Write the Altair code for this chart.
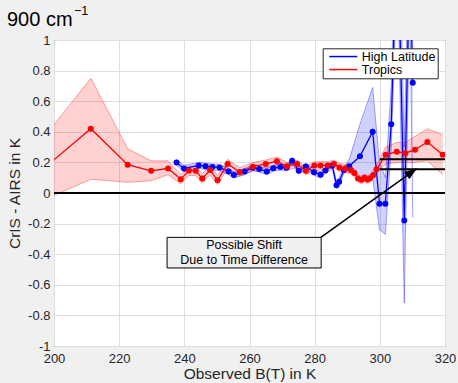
import math
import altair as alt
import pandas as pd

# ---------------- data ----------------
x_ticks = [200, 220, 240, 260, 280, 300, 320]
y_ticks = [-1.0, -0.8, -0.6, -0.4, -0.2, 0.0, 0.2, 0.4, 0.6, 0.8, 1.0]
series_names = ["High Latitude", "Tropics"]
series_colors = ["#0000ff", "#ff0000"]

hl_x = [237.6, 239.9, 244.4, 246.5, 248.6, 250.8, 253.6, 255.2, 258.5, 261.0,
        263.0, 265.3, 267.3, 269.5, 271.4, 273.1, 275.1, 277.3, 279.8, 281.8,
        283.3, 285.4, 286.7, 287.5, 289.0, 290.6, 293.9, 297.8, 299.9, 301.7,
        303.5, 305.4, 307.5, 309.2, 310.1]
hl_y = [0.20, 0.16, 0.18, 0.175, 0.17, 0.167, 0.14, 0.118, 0.14, 0.165,
        0.157, 0.14, 0.162, 0.17, 0.165, 0.21, 0.145, 0.173, 0.136, 0.12,
        0.147, 0.18, 0.05, 0.074, 0.15, 0.175, 0.24, 0.40, -0.07, -0.07,
        0.45, 1.8, -0.18, 1.6, 0.72]
hl_lo = [0.18, 0.14, 0.16, 0.155, 0.15, 0.147, 0.12, 0.098, 0.12, 0.145,
         0.137, 0.12, 0.142, 0.15, 0.145, 0.19, 0.125, 0.153, 0.116, 0.10,
         0.127, 0.16, 0.03, 0.05, 0.13, 0.15, 0.09, 0.10, -0.24, -0.27,
         0.30, 1.5, -0.72, 1.3, -0.16]
hl_hi = [0.22, 0.18, 0.20, 0.195, 0.19, 0.187, 0.16, 0.138, 0.16, 0.185,
         0.177, 0.16, 0.182, 0.19, 0.185, 0.23, 0.165, 0.193, 0.156, 0.14,
         0.167, 0.20, 0.07, 0.10, 0.17, 0.22, 0.45, 0.69, 0.20, 0.10,
         0.70, 2.2, 0.30, 2.0, 1.2]

tr_x = [189.0, 211.3, 222.6, 229.8, 235.0, 238.9, 241.4, 243.5, 245.5, 247.9,
        250.2, 253.3, 257.0, 261.0, 265.0, 268.4, 271.4, 274.6, 277.3, 279.9,
        281.8, 284.0, 285.9, 287.6, 289.3, 291.1, 292.2, 293.3, 294.4, 295.3,
        296.2, 297.0, 298.0, 299.0, 301.8, 305.2, 307.8, 310.8, 314.6, 319.3]
tr_y = [0.02, 0.42, 0.185, 0.145, 0.16, 0.09, 0.145, 0.145, 0.094, 0.15,
        0.083, 0.19, 0.137, 0.172, 0.19, 0.208, 0.175, 0.19, 0.145, 0.18,
        0.18, 0.18, 0.19, 0.167, 0.16, 0.15, 0.13, 0.095, 0.086, 0.10,
        0.088, 0.097, 0.118, 0.155, 0.25, 0.27, 0.26, 0.283, 0.333, 0.25]
tr_lo = [-0.12, 0.09, 0.07, 0.08, 0.12, 0.06, 0.115, 0.115, 0.065, 0.12,
         0.055, 0.16, 0.11, 0.145, 0.165, 0.18, 0.15, 0.165, 0.12, 0.155,
         0.155, 0.155, 0.165, 0.14, 0.135, 0.125, 0.105, 0.07, 0.06, 0.075,
         0.063, 0.072, 0.093, 0.13, 0.19, 0.20, 0.20, 0.20, 0.21, 0.12]
tr_hi = [0.15, 0.75, 0.29, 0.21, 0.21, 0.12, 0.175, 0.175, 0.125, 0.18,
         0.115, 0.22, 0.165, 0.20, 0.215, 0.235, 0.20, 0.215, 0.17, 0.205,
         0.205, 0.205, 0.215, 0.195, 0.185, 0.175, 0.155, 0.12, 0.11, 0.125,
         0.113, 0.122, 0.143, 0.18, 0.30, 0.33, 0.33, 0.37, 0.42, 0.38]

# reference lines / annotation (data coordinates)
zero_line = [0.0]
shift_x = [300, 320]
shift_levels = [0.22, 0.155]
arrow_from = (281.9, -0.29)
arrow_to = (311.3, 0.16)
box_x = (234.7, 282.0)
box_y = (-0.49, -0.29)
box_lines = ["Possible Shift", "Due to Time Difference"]
box_line_y = [-0.342, -0.437]

# ---------------- chart ----------------
W, H = 391, 306
FONT = "Liberation Sans"
TXT = "#262626"

hl = pd.DataFrame({"x": hl_x, "y": hl_y, "lo": hl_lo, "hi": hl_hi, "series": series_names[0]})
tr = pd.DataFrame({"x": tr_x, "y": tr_y, "lo": tr_lo, "hi": tr_hi, "series": series_names[1]})
df = pd.concat([hl, tr], ignore_index=True)

xs = alt.Scale(domain=[200, 320], nice=False, zero=False)
ys = alt.Scale(domain=[-1, 1], nice=False, zero=False)
cs = alt.Scale(domain=series_names, range=series_colors)

common_axis = dict(grid=True, gridColor="#dfdfdf", gridWidth=1, ticks=False, tickSize=0,
                   domain=False, labelFontSize=13, labelColor=TXT, labelFont=FONT,
                   labelFlush=False, labelOverlap=False, titleFont=FONT,
                   titleFontSize=15.5, titleFontWeight="normal", titleColor=TXT)
x_axis = alt.Axis(values=x_ticks, title="Observed B(T) in K", labelPadding=6,
                  titlePadding=1, **common_axis)
y_axis = alt.Axis(values=y_ticks, title="CrIS - AIRS in K", labelPadding=4, titlePadding=5,
                  labelExpr="datum.value == 0 ? '0' : replace(format(datum.value, '.1~f'), '\u2212', '-')",
                  **common_axis)


def X(f):
    return alt.X(f"{f}:Q", scale=xs, axis=x_axis)


def Y(f):
    return alt.Y(f"{f}:Q", scale=ys, axis=y_axis)


legend = alt.Legend(
    title=None, orient="none", legendX=268.7, legendY=8.3,
    fillColor="white", strokeColor=TXT, padding=2, symbolOffset=12.3,
    symbolType="M-3,0L3,0", symbolSize=87, symbolStrokeWidth=1.5, symbolOpacity=1,
    labelFont=FONT, labelFontSize=12.5, labelColor="black", labelOffset=12.3,
    rowPadding=0, labelLimit=200)
col = alt.Color("series:N", scale=cs, legend=legend)

band = alt.Chart(df).mark_area(opacity=0.18, clip=True).encode(
    x=X("x"), y=Y("lo"), y2=alt.Y2("hi"), color=col)
edge_lo = alt.Chart(df).mark_line(opacity=0.35, strokeWidth=1, clip=True).encode(
    x=X("x"), y=Y("lo"), color=col)
edge_hi = alt.Chart(df).mark_line(opacity=0.35, strokeWidth=1, clip=True).encode(
    x=X("x"), y=Y("hi"), color=col)

lines = alt.Chart(df).mark_line(strokeWidth=1.3, clip=True).encode(
    x=X("x"), y=Y("y"), color=col)
points = alt.Chart(df).mark_circle(size=36, opacity=1, clip=True).encode(
    x=X("x"), y=Y("y"), color=col)

zero = alt.Chart(pd.DataFrame({"y": zero_line})).mark_rule(
    color="black", strokeWidth=2).encode(y=Y("y"))
shifts = alt.Chart(pd.DataFrame({"x": [shift_x[0]] * 2, "x2": [shift_x[1]] * 2,
                                 "y": shift_levels})).mark_rule(
    color="black", strokeWidth=2).encode(x=X("x"), x2="x2:Q", y=Y("y"))

arrow_df = pd.DataFrame({"x": [arrow_from[0]], "y": [arrow_from[1]],
                         "x2": [arrow_to[0]], "y2": [arrow_to[1]]})
arrow = alt.Chart(arrow_df).mark_rule(color="black", strokeWidth=1.5).encode(
    x=X("x"), y=Y("y"), x2="x2:Q", y2="y2:Q")
dx_px = (arrow_to[0] - arrow_from[0]) / 120 * W
dy_px = (arrow_to[1] - arrow_from[1]) / 2 * H
angle = math.degrees(math.atan2(dx_px, dy_px))
head = alt.Chart(pd.DataFrame({"x": [arrow_to[0]], "y": [arrow_to[1]]})).mark_point(
    shape="M0,0L0.55,1.6L-0.55,1.6Z", size=225, filled=True, fill="black",
    stroke="black", strokeWidth=0.5, opacity=1, angle=angle).encode(x=X("x"), y=Y("y"))

box = alt.Chart(pd.DataFrame({"x": [box_x[0]], "x2": [box_x[1]],
                              "y": [box_y[0]], "y2": [box_y[1]]})).mark_rect(
    fill="#f0f0f0", stroke="black", strokeWidth=1).encode(
    x=X("x"), x2="x2:Q", y=Y("y"), y2="y2:Q")
box_text = alt.Chart(pd.DataFrame({"x": [(box_x[0] + box_x[1]) / 2] * 2,
                                   "y": box_line_y, "t": box_lines})).mark_text(
    font=FONT, fontSize=12.5, color="black", baseline="middle", align="center").encode(
    x=X("x"), y=Y("y"), text="t:N")

title_main = alt.Chart(pd.DataFrame({"t": ["900 cm"]})).mark_text(
    font=FONT, fontSize=20, color="black", align="left", baseline="alphabetic").encode(
    x=alt.value(-47), y=alt.value(-14), text="t:N")
title_sup = alt.Chart(pd.DataFrame({"t": ["\u22121"]})).mark_text(
    font=FONT, fontSize=12.5, color="black", align="left", baseline="alphabetic").encode(
    x=alt.value(20), y=alt.value(-25), text="t:N")

chart = alt.layer(
    band, edge_lo, edge_hi, lines, points, zero, shifts, arrow, head, box, box_text,
    title_main, title_sup
).properties(
    width=W, height=H,
    autosize=alt.AutoSizeParams(type="none"),
    padding={"left": 54, "top": 40, "right": 13, "bottom": 37},
    background="#f0f0f0",
).configure_view(
    fill="white", stroke=TXT, strokeWidth=1
)

chart.save("out.html", embed_options={"renderer": "svg", "actions": False})
